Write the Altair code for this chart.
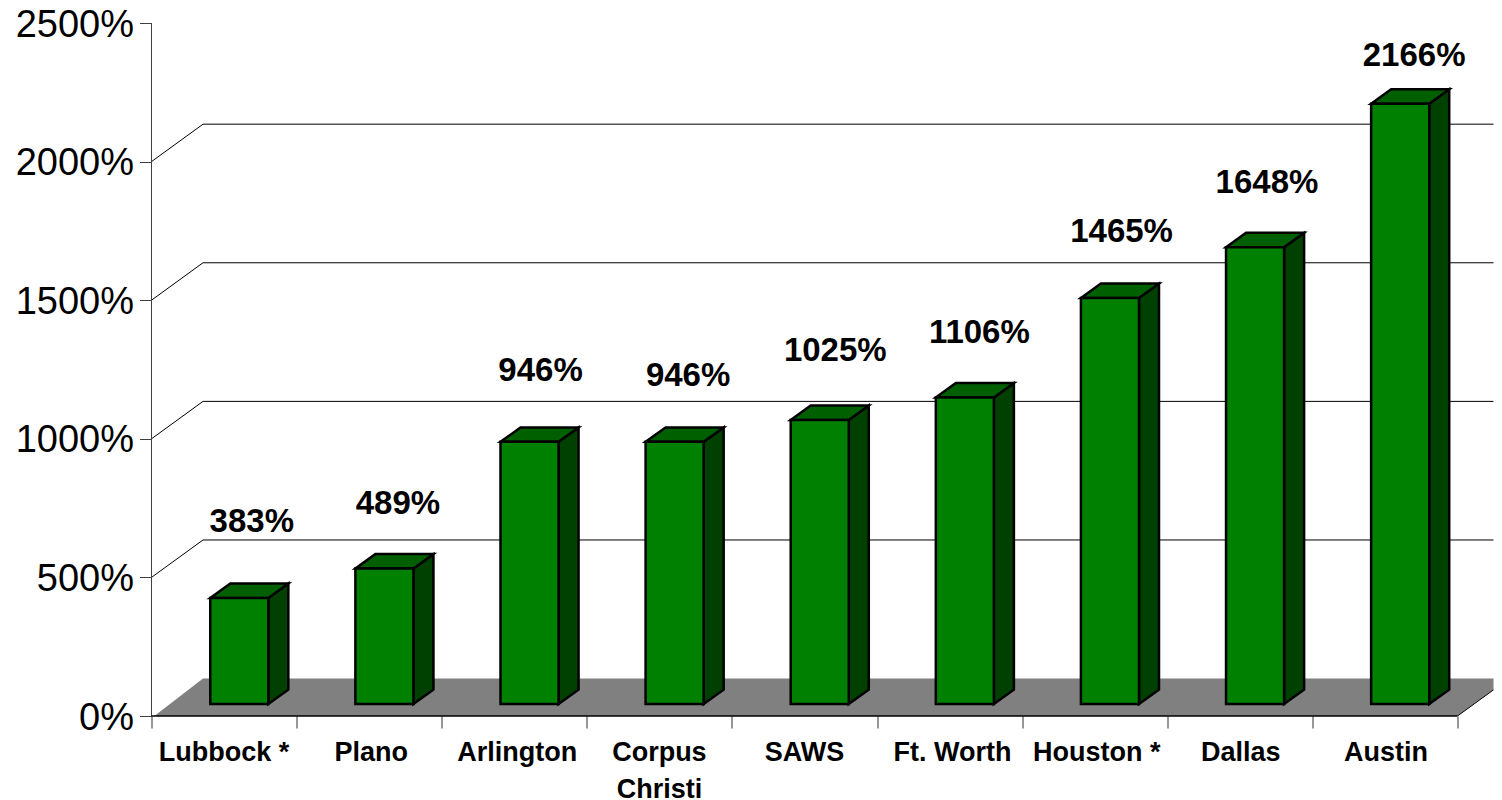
import altair as alt
import pandas as pd

cities = ["Lubbock *", "Plano", "Arlington", "Corpus\nChristi", "SAWS", "Ft. Worth", "Houston *", "Dallas", "Austin"]
values = [383, 489, 946, 946, 1025, 1106, 1465, 1648, 2166]
# height of each value label above its bar top (in % units), and its sideways shift (in category units)
label_lift = [274, 234, 256, 238, 248, 233, 237, 230, 173]
label_shift = [0.086, 0.093, 0.076, 0.093, 0.107, 0.100, 0.080, 0.082, 0.096]
cat_shift = [0, 0.014, 0.020, 0, 0, 0.020, 0.014, 0.007, 0.007]
y_ticks = [0, 500, 1000, 1500, 2000, 2500]
grid_levels = [500, 1000, 1500, 2000]
x_ticks = list(range(10))

N = len(cities)
WALL_DX, WALL_DY = 0.355, 135      # wall depth
BAR_DX, BAR_DY = 0.138, 52         # bar depth
BAR_W, BAR_GAP, BASE = 0.400, 0.405, 43  # bar width, left offset, floor lift
W, H = 1342, 708
XMAX, YMAX = W / 145.11, H / 693 * 2500

xs = alt.Scale(domain=[0, XMAX], nice=False, zero=False)
ys = alt.Scale(domain=[0, YMAX], nice=False, zero=False)
X = lambda f, **k: alt.X(f, type="quantitative", scale=xs, **k)
Y = lambda f, **k: alt.Y(f, type="quantitative", scale=ys, **k)

floor = pd.DataFrame({
    "x": [0.02, WALL_DX, N, N + WALL_DX],
    "lo": [0, 0, 0, WALL_DY],
    "hi": [0, WALL_DY, WALL_DY, WALL_DY],
})
slants = pd.DataFrame(
    [{"k": v, "x": 0, "y": v} for v in grid_levels] +
    [{"k": v, "x": WALL_DX, "y": v + WALL_DY} for v in grid_levels]
)
edge = pd.DataFrame({"x": [N, N + WALL_DX], "y": [0, WALL_DY]})
back = pd.DataFrame({"y": [v + WALL_DY for v in grid_levels], "x": [WALL_DX] * 4, "x2": [N + WALL_DX] * 4})
y_line = pd.DataFrame({"x": [0], "y": [0], "y2": [y_ticks[-1]]})
x_line = pd.DataFrame({"x": [0], "x2": [N], "y": [0]})

front, side, top = [], [], []
for i, v in enumerate(values):
    x0 = i + BAR_GAP
    x1 = x0 + BAR_W
    t = v + BASE
    front.append({"x": x0, "x2": x1, "y": BASE, "y2": t})
    side += [{"b": i, "x": x1, "lo": BASE, "hi": t},
             {"b": i, "x": x1 + BAR_DX, "lo": BASE + BAR_DY, "hi": t + BAR_DY}]
    top += [{"b": i, "x": x0, "lo": t, "hi": t},
            {"b": i, "x": x0 + BAR_DX, "lo": t, "hi": t + BAR_DY},
            {"b": i, "x": x1, "lo": t, "hi": t + BAR_DY},
            {"b": i, "x": x1 + BAR_DX, "lo": t + BAR_DY, "hi": t + BAR_DY}]
front, side, top = pd.DataFrame(front), pd.DataFrame(side), pd.DataFrame(top)

val_labels = pd.DataFrame({
    "x": [i + BAR_GAP + BAR_W / 2 + s for i, s in enumerate(label_shift)],
    "y": [v + BASE + l for v, l in zip(values, label_lift)],
    "t": [f"{v}%" for v in values],
})
cat_labels = pd.DataFrame({"x": [i + 0.5 + s for i, s in enumerate(cat_shift)],
                           "t": [c.split("\n") for c in cities]})

axes = alt.Chart(floor).mark_area(color="#808080", clip=True).encode(
    x=X("x", axis=alt.Axis(values=x_ticks, labels=False, title=None, grid=False, tickSize=12,
                           tickColor="#303030", domain=False)),
    y=Y("lo", axis=alt.Axis(values=y_ticks, labelExpr="datum.value + '%'", title=None, grid=False,
                            tickSize=12, tickColor="#404040", domain=False,
                            labelFont="Liberation Sans", labelFontSize=38, labelColor="#000000",
                            labelPadding=6, labelBaseline="middle", labelFlush=False,
                            labelOffset=2, labelOverlap=False)),
    y2="hi",
)
y_rule = alt.Chart(y_line).mark_rule(color="#404040", strokeWidth=1).encode(x=X("x"), y=Y("y"), y2="y2")
x_rule = alt.Chart(x_line).mark_rule(color="#000000", strokeWidth=1.5).encode(x=X("x"), x2="x2", y=Y("y"))
edge_l = alt.Chart(edge).mark_line(color="#000000", strokeWidth=1, clip=True).encode(x=X("x"), y=Y("y"))
slant_l = alt.Chart(slants).mark_line(color="#000000", strokeWidth=1, clip=True).encode(
    x=X("x"), y=Y("y"), detail="k:N")
back_l = alt.Chart(back).mark_rule(color="#000000", strokeWidth=1, clip=True).encode(
    x=X("x"), x2="x2", y=Y("y"))
side_l = alt.Chart(side).mark_area(color="#004000", stroke="#000000", strokeWidth=2.5).encode(
    x=X("x"), y=Y("lo"), y2="hi", detail="b:N")
top_l = alt.Chart(top).mark_area(color="#006000", stroke="#000000", strokeWidth=2.5).encode(
    x=X("x"), y=Y("lo"), y2="hi", detail="b:N")
front_l = alt.Chart(front).mark_rect(color="#008000", stroke="#000000", strokeWidth=2.5).encode(
    x=X("x"), x2="x2", y=Y("y"), y2="y2")
val_t = alt.Chart(val_labels).mark_text(font="Liberation Sans", fontWeight="bold", fontSize=33,
                                        color="#000000", baseline="middle").encode(
    x=X("x"), y=Y("y"), text="t:N")
cat_t = alt.Chart(cat_labels).mark_text(font="Liberation Sans", fontWeight="bold", fontSize=27,
                                        color="#000000", baseline="top", lineHeight=37).encode(
    x=X("x"), y=alt.value(H + 24), text="t")

chart = alt.layer(axes, edge_l, slant_l, back_l, y_rule, x_rule, side_l, top_l, front_l, val_t, cat_t).properties(
    width=W, height=H,
    autosize=alt.AutoSizeParams(type="none"),
    padding={"left": 143.5, "top": 0, "right": 0, "bottom": 84},
).configure_view(stroke=None)

chart.save("out.html", embed_options={"renderer": "svg", "actions": False})
